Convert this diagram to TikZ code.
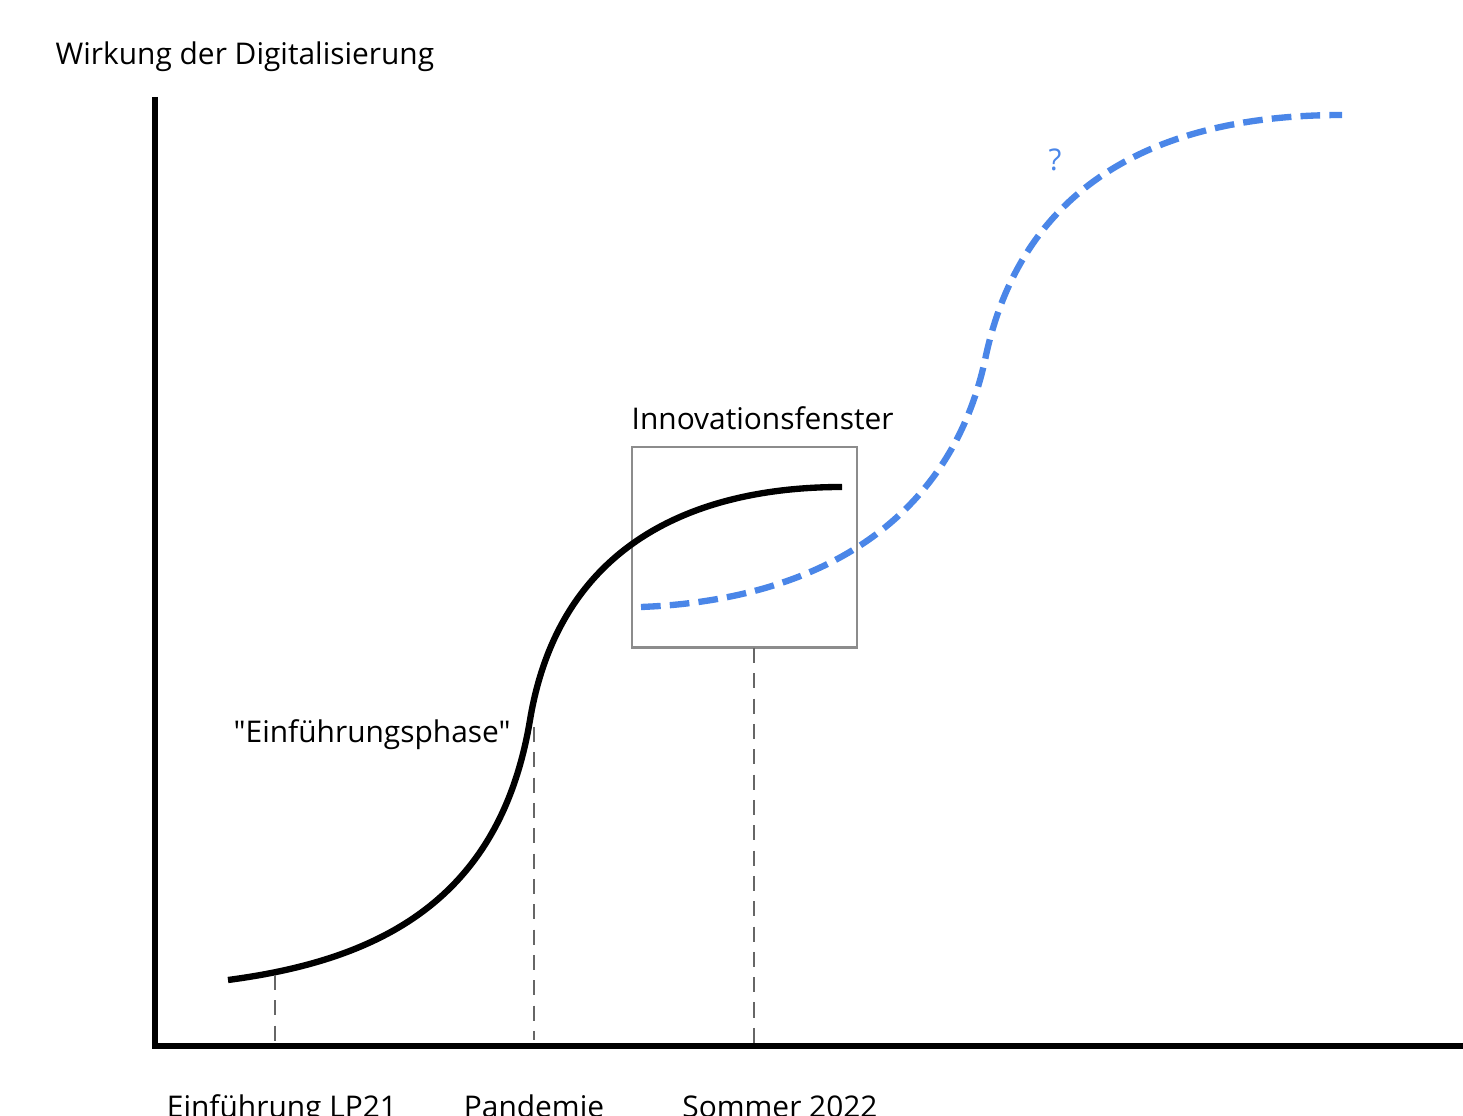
\documentclass[tikz,border=0pt]{standalone}
\usepackage{fontspec}
\setmainfont{Open Sans}[Ligatures=TeXOff]
\usepackage{xcolor}
\definecolor{zukunftblau}{HTML}{4A86E8}

\begin{document}
\begin{tikzpicture}[x=0.01cm,y=-0.01cm,
    achse/.style={line width=1.5pt},
    kurve/.style={line width=1.8pt},
    zukunft/.style={line width=1.8pt, zukunftblau, dash pattern=on 5.6pt off 2.6pt},
    hilfslinie/.style={line width=0.6pt, black!60, dash pattern=on 4.3pt off 2.9pt},
    beschriftung/.style={inner sep=0pt, font=\fontsize{8.5}{10}\selectfont}]
            \useasboundingbox (0,0) rectangle (1463,1116);
            % Axes
            \coordinate (O) at (155,1046);
            \coordinate (ytop) at (155,97);
            \coordinate (xend) at (1463,1046);
            \draw[achse] (ytop) -- (O) -- (xend);
            \node[beschriftung, anchor=base west] (titel) at (55,65) {Wirkung der Digitalisierung};
            % Innovation window
            \node[draw=black!45, line width=0.6pt, minimum width=2.25cm, minimum height=2cm, inner sep=0pt] (fenster) at (744.5,547.5) {};
            \node[beschriftung, anchor=base west] (fensterlabel) at (631,430) {Innovationsfenster};
            % First S-curve
            \draw[kurve] (228,980) .. controls (380,960) and (500,900) .. (530,720)
                .. controls (560,540) and (700,487) .. (842,487);
            % Second S-curve (future)
            \draw[zukunft] (641,607) .. controls (820,600) and (950,520) .. (985,360)
                .. controls (1020,190) and (1150,115) .. (1342,115);
            \node[beschriftung, zukunftblau] (frage) at (1055,160) {?};
            \node[beschriftung, anchor=base west] (phase) at (233,743) {"Einführungsphase"};
            % Markers on the time axis
            \coordinate (m1) at (275,975);
            \coordinate (m2) at (534,727);
            \coordinate (m3) at (754,648);
            \coordinate (f1) at (275,1046);
            \coordinate (f2) at (534,1040);
            \coordinate (f3) at (754,1046);
            \draw[hilfslinie] (m1) -- (f1);
            \draw[hilfslinie] (m2) -- (f2);
            \draw[hilfslinie] (m3) -- (f3);
            \node[beschriftung, anchor=base] (lp21) at (282,1117) {Einführung LP21};
            \node[beschriftung, anchor=base] (pandemie) at (534,1117) {Pandemie};
            \node[beschriftung, anchor=base] (sommer) at (780,1117) {Sommer 2022};
        \end{tikzpicture}
\end{document}
